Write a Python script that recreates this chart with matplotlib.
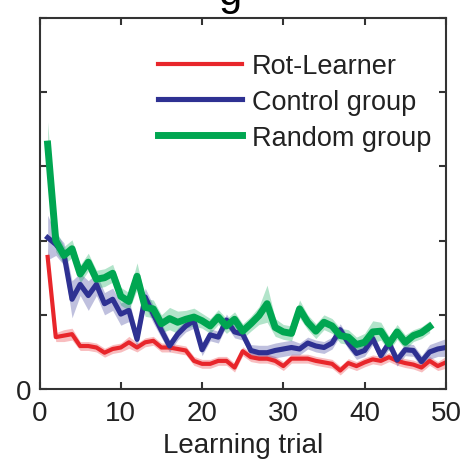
import numpy as np
import matplotlib.pyplot as plt

plt.rcParams['font.family'] = ['Liberation Sans', 'DejaVu Sans']

# mean error per learning trial, with standard error of the mean
rot_mean = [1.78, 0.70, 0.72, 0.74, 0.58, 0.58, 0.56, 0.49, 0.54, 0.56,
            0.63, 0.56, 0.63, 0.65, 0.56, 0.56, 0.54, 0.52, 0.38, 0.34,
            0.34, 0.38, 0.38, 0.29, 0.51, 0.43, 0.41, 0.41, 0.38, 0.31,
            0.41, 0.41, 0.41, 0.38, 0.36, 0.34, 0.25, 0.35, 0.31, 0.36,
            0.40, 0.38, 0.43, 0.38, 0.35, 0.33, 0.29, 0.38, 0.31, 0.36]
rot_sem = [0.12, 0.06, 0.08, 0.08, 0.06, 0.06, 0.06, 0.06, 0.06, 0.06,
           0.08, 0.06, 0.06, 0.06, 0.06, 0.06, 0.06, 0.06, 0.06, 0.06,
           0.06, 0.06, 0.06, 0.06, 0.06, 0.06, 0.06, 0.06, 0.06, 0.06,
           0.06, 0.06, 0.06, 0.06, 0.06, 0.06, 0.06, 0.06, 0.06, 0.06,
           0.06, 0.06, 0.06, 0.06, 0.06, 0.06, 0.06, 0.06, 0.06, 0.08]

ctrl_mean = [2.04, 1.95, 1.82, 1.21, 1.41, 1.26, 1.41, 1.15, 1.21, 1.01,
             1.06, 0.67, 1.24, 1.01, 0.79, 0.58, 0.74, 0.85, 0.92, 0.53,
             0.73, 0.70, 0.93, 0.77, 0.74, 0.52, 0.49, 0.49, 0.52, 0.54,
             0.56, 0.54, 0.62, 0.58, 0.56, 0.62, 0.80, 0.62, 0.48, 0.52,
             0.68, 0.45, 0.62, 0.39, 0.53, 0.52, 0.37, 0.50, 0.54, 0.56]
ctrl_sem = [0.30, 0.15, 0.15, 0.25, 0.15, 0.20, 0.15, 0.15, 0.15, 0.15,
            0.15, 0.10, 0.12, 0.12, 0.10, 0.08, 0.08, 0.08, 0.10, 0.08,
            0.08, 0.08, 0.08, 0.08, 0.08, 0.08, 0.10, 0.10, 0.10, 0.10,
            0.10, 0.08, 0.08, 0.08, 0.08, 0.08, 0.08, 0.08, 0.08, 0.08,
            0.08, 0.08, 0.08, 0.08, 0.08, 0.08, 0.08, 0.10, 0.10, 0.12]

rand_mean = [3.30, 2.00, 1.80, 1.89, 1.55, 1.71, 1.48, 1.50, 1.56, 1.25,
             1.18, 1.52, 1.10, 1.08, 0.88, 0.95, 0.90, 0.94, 0.97, 0.92,
             0.85, 0.97, 0.85, 0.94, 0.78, 0.88, 0.99, 1.15, 0.83, 0.77,
             0.75, 1.08, 0.90, 0.78, 0.90, 0.85, 0.72, 0.70, 0.60, 0.63,
             0.77, 0.78, 0.61, 0.77, 0.63, 0.72, 0.76, 0.84]
rand_sem = [0.30, 0.15, 0.12, 0.12, 0.12, 0.12, 0.12, 0.12, 0.12, 0.12,
            0.12, 0.18, 0.12, 0.12, 0.12, 0.15, 0.15, 0.12, 0.12, 0.10,
            0.10, 0.10, 0.10, 0.10, 0.10, 0.10, 0.12, 0.25, 0.12, 0.10,
            0.10, 0.12, 0.10, 0.10, 0.10, 0.10, 0.10, 0.10, 0.10, 0.12,
            0.15, 0.12, 0.10, 0.10, 0.10, 0.08, 0.08, 0.08]

series = [
    ("Rot-Learner", rot_mean, rot_sem, '#e8262b', 3.0),
    ("Control group", ctrl_mean, ctrl_sem, '#2e3192', 3.7),
    ("Random group", rand_mean, rand_sem, '#00a651', 5.0),
]

fig = plt.figure(figsize=(4.66, 4.60), dpi=100)
ax = fig.add_axes([0.0848, 0.152, 0.872, 0.807])

for label, mean, sem, color, lw in series:
    mean = np.array(mean)
    sem = np.array(sem)
    trials = np.arange(1, len(mean) + 1)
    ax.fill_between(trials, mean - sem, mean + sem, color=color, alpha=0.3,
                    linewidth=0)
    ax.plot(trials, mean, color=color, lw=lw, label=label,
            solid_joinstyle='round')

ax.set_xlim(0, 50)
ax.set_ylim(0, 5)
ax.set_xticks([0, 10, 20, 30, 40, 50])
ax.set_yticks([0, 1, 2, 3, 4, 5])
ax.set_yticklabels(['0', '', '', '', '', ''])
ax.tick_params(direction='in', length=5, width=1.5, top=True, right=True,
               labelsize=20, colors='#333333', labelcolor='#222222')
ax.tick_params(axis='x', pad=8)
ax.tick_params(axis='y', pad=6)
for sp in ax.spines.values():
    sp.set_linewidth(1.5)
    sp.set_color('#333333')

ax.set_xlabel("Learning trial", fontsize=20, color='#222222', labelpad=4)

leg = ax.legend(loc='upper left', bbox_to_anchor=(0.265, 0.934), frameon=False,
                fontsize=19.5, handlelength=3.1, handletextpad=0.37,
                labelspacing=0.36, borderaxespad=0)
for t in leg.get_texts():
    t.set_color('#222222')

# tail of the panel heading above the axes
fig.text(0.494, 1 - 5 / 460, "g", fontsize=30, ha='center', va='baseline')

fig.savefig("out.png", dpi=100)
